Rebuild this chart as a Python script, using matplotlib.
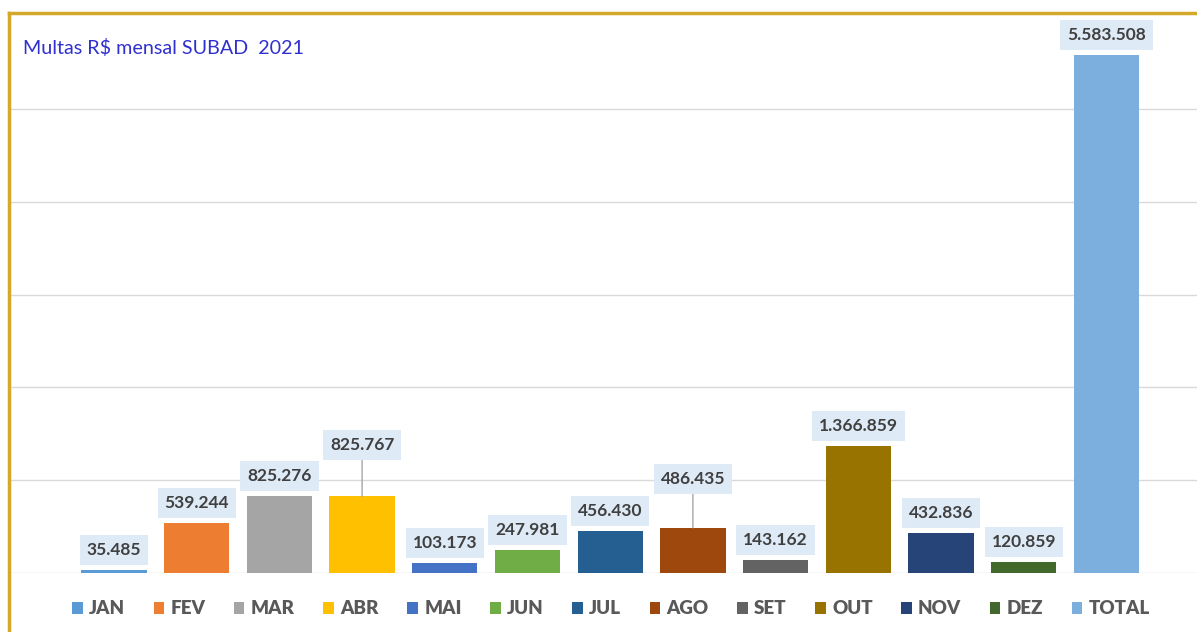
import matplotlib
matplotlib.use("Agg")
import matplotlib.pyplot as plt
from matplotlib.patches import Patch
from matplotlib.lines import Line2D
from matplotlib.font_manager import FontProperties

# ---- data ----
categories = ["JAN", "FEV", "MAR", "ABR", "MAI", "JUN", "JUL", "AGO",
              "SET", "OUT", "NOV", "DEZ", "TOTAL"]
values = [35485, 539244, 825276, 825767, 103173, 247981, 456430, 486435,
          143162, 1366859, 432836, 120859, 5583508]
colors = ["#5B9BD5", "#ED7D31", "#A5A5A5", "#FFC000", "#4472C4", "#70AD47",
          "#255E91", "#9E480E", "#636363", "#997300", "#264478", "#43682B",
          "#7CAFDD"]
title = "Multas R$ mensal SUBAD  2021"
# labels lifted with a leader line (pixels above bar top)
leader_offsets = {"ABR": 36, "AGO": 34}

W, H = 1197, 632
fig = plt.figure(figsize=(W / 100, H / 100), dpi=100)
fig.patch.set_facecolor("white")

x0_px, x_step = 114, 82.7
left_px, right_px = 10, 1197
base_px, top_px = 573, 16.2
ax = fig.add_axes([left_px / W, 1 - base_px / H,
                   (right_px - left_px) / W, (base_px - top_px) / H])
ax.set_xlim((left_px - x0_px) / x_step, (right_px - x0_px) / x_step)
ax.set_ylim(0, 6_000_000)

xs = list(range(len(categories)))
ax.bar(xs, values, width=0.79, color=colors, zorder=3)

ax.set_yticks([i * 1_000_000 for i in range(6)])
ax.yaxis.grid(True, color="#D9D9D9", lw=1)
ax.set_axisbelow(True)
ax.tick_params(left=False, bottom=False, labelleft=False, labelbottom=False)
for s in ax.spines.values():
    s.set_visible(False)

fnt = "Lato"
for x, v, c in zip(xs, values, categories):
    lab = f"{v:,}".replace(",", ".")
    gap = leader_offsets.get(c, 5)
    arrow = None
    if c in leader_offsets:
        arrow = dict(arrowstyle="-", color="#A6A6A6", lw=1, shrinkA=0, shrinkB=0)
    ax.annotate(lab, xy=(x, v), xytext=(0, gap + 7), textcoords="offset pixels",
                ha="center", va="bottom", fontsize=12.5, fontweight="bold",
                family=fnt, color="#404040", zorder=5,
                bbox=dict(boxstyle="square,pad=0.4", fc="#DEEBF7", ec="none"),
                arrowprops=arrow)

fig.text(23 / W, 1 - 48 / H, title, ha="left", va="center", fontsize=14.2,
         family=fnt, color="#3030D0")

handles = [Patch(facecolor=c, edgecolor="none") for c in colors]
legprop = FontProperties(family=fnt, weight="heavy", size=13.5)
leg = fig.legend(handles, categories, loc="center", ncol=13,
                 bbox_to_anchor=(611 / W, 1 - 609 / H), frameon=False,
                 handlelength=0.55, handleheight=0.55, handletextpad=0.35,
                 columnspacing=1.52, prop=legprop)
for t in leg.get_texts():
    t.set_color("#595959")

# gold frame (top and left)
gold = "#D4A82A"
fig.add_artist(Line2D([9 / W, 1], [1 - 13 / H, 1 - 13 / H], color=gold, lw=2.5,
                      transform=fig.transFigure))
fig.add_artist(Line2D([9 / W, 9 / W], [0, 1 - 13 / H], color=gold, lw=2.5,
                      transform=fig.transFigure))

fig.savefig("out.png", dpi=100)
